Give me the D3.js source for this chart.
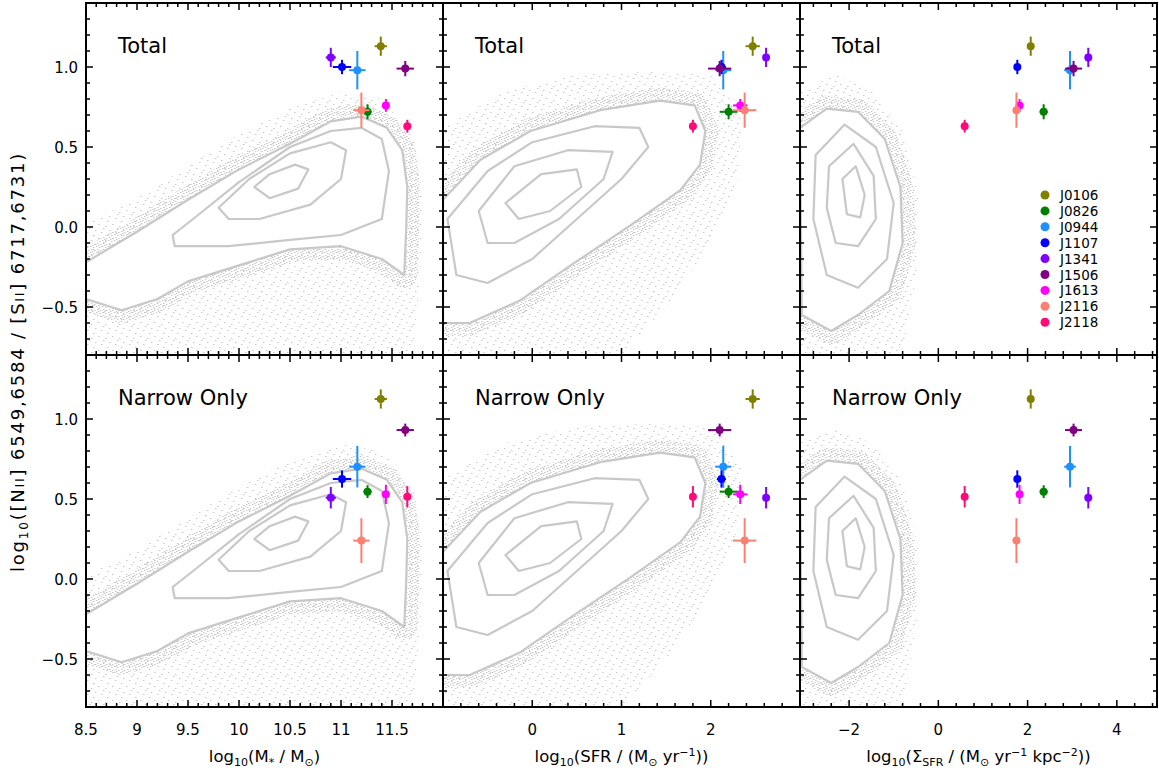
<!DOCTYPE html>
<html><head><meta charset="utf-8">
<script src="https://cdn.jsdelivr.net/npm/d3@7"></script>
<style>body{margin:0;background:#fff;} text{font-family:"DejaVu Sans","Liberation Sans",sans-serif;fill:#000;}</style>
</head><body><svg id="c" width="1159" height="778"></svg>
<script>
// ---------------- data ----------------
const names = ["J0106","J0826","J0944","J1107","J1341","J1506","J1613","J2116","J2118"];
const colors = ["#808000","#008000","#1e90ff","#0000ff","#8000ff","#800080","#ff00ff","#fa8072","#ff0a78"];
const logMass = [11.39,11.26,11.16,11.01,10.90,11.63,11.44,11.20,11.65];
const logMassErr = [0.06,0.04,0.08,0.09,0.05,0.085,0.02,0.08,0.02];
const logSFR = [2.47,2.20,2.14,2.12,2.62,2.10,2.33,2.38,1.80];
const logSFRErr = [0.08,0.10,0.09,0.05,0.02,0.13,0.08,0.13,0.02];
const logSigma = [2.07,2.36,2.95,1.77,3.36,3.03,1.82,1.75,0.59];
const logSigmaErr = [0.03,0.09,0.13,0.04,0.03,0.19,0.03,0.03,0.03];
const ratioTotal = [1.13,0.72,0.98,1.00,1.06,0.99,0.76,0.73,0.63];
const ratioTotalErr = [0.06,0.047,0.12,0.045,0.06,0.048,0.04,0.11,0.04];
const ratioNarrow = [1.125,0.546,0.702,0.625,0.508,0.931,0.529,0.24,0.514];
const ratioNarrowErr = [0.06,0.04,0.13,0.054,0.067,0.04,0.06,0.14,0.067];

const rowLabels = ["Total","Narrow Only"];
const yTickLabels = ["−0.5","0.0","0.5","1.0"];
const yTickValues = [-0.5,0,0.5,1.0];
const massTicks = [8.5,9,9.5,10,10.5,11,11.5];
const massTickLabels = ["8.5","9","9.5","10","10.5","11","11.5"];
const sfrTicks = [0,1,2];
const sfrTickLabels = ["0","1","2"];
const sigmaTicks = [-2,0,2,4];
const sigmaTickLabels = ["−2","0","2","4"];

// background sample (SDSS): envelope of scattered points and density contours
const massEnvelope = [[8.5,0.02],[9.0,0.18],[9.5,0.38],[10,0.58],[10.5,0.74],[11,0.84],[11.4,0.8],[11.72,0.55],[11.8,0.2],[11.78,-0.3],[11.7,-0.8],[8.5,-0.8]];
const massContour1 = [[8.5,-0.22],[9.0,-0.03],[9.5,0.17],[10.0,0.36],[10.5,0.52],[10.9,0.66],[11.2,0.69],[11.45,0.62],[11.6,0.48],[11.65,0.25],[11.64,0.0],[11.62,-0.3],[11.4,-0.2],[11.0,-0.12],[10.5,-0.14],[10.0,-0.24],[9.5,-0.34],[9.2,-0.45],[8.85,-0.52],[8.5,-0.45]];
const massContour2 = [[9.35,-0.05],[9.55,0.05],[10.0,0.28],[10.5,0.5],[10.9,0.6],[11.2,0.62],[11.4,0.55],[11.47,0.35],[11.4,0.05],[11.0,-0.05],[10.5,-0.08],[9.9,-0.12],[9.37,-0.12]];
const massContour3 = [[9.8,0.12],[10.1,0.3],[10.5,0.46],[10.9,0.53],[11.05,0.48],[11.0,0.3],[10.7,0.14],[10.2,0.05],[9.9,0.05]];
const massContour4 = [[10.15,0.25],[10.3,0.33],[10.55,0.39],[10.68,0.36],[10.58,0.24],[10.3,0.18]];

const sfrEnvelope = [[-1,0.62],[-0.3,0.85],[0.5,0.95],[1.3,0.97],[2.0,0.95],[2.35,0.7],[2.3,0.3],[2.0,-0.1],[1.5,-0.5],[1.0,-0.8],[-1,-0.8]];
const sfrContour1 = [[-1,0.17],[-0.58,0.42],[-0.02,0.6],[0.76,0.73],[1.43,0.79],[1.82,0.76],[1.94,0.6],[1.88,0.39],[1.66,0.23],[1.1,0.01],[0.43,-0.24],[-0.14,-0.46],[-0.7,-0.6],[-1,-0.6]];
const sfrContour2 = [[-0.95,0.05],[-0.5,0.35],[0,0.53],[0.7,0.63],[1.2,0.62],[1.3,0.5],[1.0,0.3],[0.5,0.05],[0,-0.2],[-0.5,-0.35],[-0.85,-0.3]];
const sfrContour3 = [[-0.6,0.1],[-0.2,0.38],[0.4,0.48],[0.9,0.47],[0.8,0.3],[0.3,0.05],[-0.2,-0.1],[-0.5,-0.1]];
const sfrContour4 = [[-0.3,0.15],[0.1,0.33],[0.5,0.36],[0.55,0.25],[0.2,0.1],[-0.15,0.05]];

const sigmaEnvelope = [[-3.1,0.85],[-2.3,0.95],[-1.5,0.85],[-0.8,0.6],[-0.45,0.2],[-0.5,-0.3],[-0.8,-0.8],[-3.1,-0.8]];
const sigmaContour1 = [[-3.1,0.62],[-2.5,0.74],[-1.8,0.72],[-1.2,0.55],[-0.85,0.25],[-0.8,-0.1],[-1.1,-0.4],[-1.8,-0.55],[-2.4,-0.65],[-3.06,-0.55]];
const sigmaContour2 = [[-2.75,0.45],[-2.1,0.64],[-1.4,0.5],[-1.0,0.15],[-1.15,-0.2],[-1.8,-0.38],[-2.5,-0.3],[-2.8,0.05]];
const sigmaContour3 = [[-2.45,0.38],[-1.9,0.52],[-1.45,0.32],[-1.4,0.05],[-1.8,-0.12],[-2.3,-0.1],[-2.5,0.12]];
const sigmaContour4 = [[-2.15,0.3],[-1.85,0.38],[-1.65,0.2],[-1.75,0.06],[-2.05,0.08]];

// ---------------- layout ----------------
const svg = d3.select("#c");
const L = 86, R = 1157, T = 3, B = 707;
const PW = (R - L) / 3, PH = (B - T) / 2;
const yDomain = [-0.8, 1.4];

const cols = [
  {domain:[8.5,12], xs:logMass, xe:logMassErr, ticks:massTicks, labels:massTickLabels, minor:0.1, major:0.5,
   env:massEnvelope, cont:[massContour1,massContour2,massContour3,massContour4]},
  {domain:[-1,3], xs:logSFR, xe:logSFRErr, ticks:sfrTicks, labels:sfrTickLabels, minor:0.2, major:1,
   env:sfrEnvelope, cont:[sfrContour1,sfrContour2,sfrContour3,sfrContour4]},
  {domain:[-3.1,4.9], xs:logSigma, xe:logSigmaErr, ticks:sigmaTicks, labels:sigmaTickLabels, minor:0.4, major:2,
   env:sigmaEnvelope, cont:[sigmaContour1,sigmaContour2,sigmaContour3,sigmaContour4]}
];
const rows = [{ys:ratioTotal, ye:ratioTotalErr},{ys:ratioNarrow, ye:ratioNarrowErr}];

const defs = svg.append("defs");
// texture tiles that stand in for the scattered background galaxies
const pat = defs.append("pattern").attr("id","dots").attr("patternUnits","userSpaceOnUse").attr("width",14).attr("height",14);
[[0,0],[7,2],[11,6],[3,8],[9,11],[5,4]].forEach(p=>pat.append("rect").attr("x",p[0]).attr("y",p[1]).attr("width",1.5).attr("height",1).attr("fill","#c8c8c8"));
const pat2 = defs.append("pattern").attr("id","dotsDense").attr("patternUnits","userSpaceOnUse").attr("width",6).attr("height",6);
[[0,0],[3,1],[1,3],[4,4],[2,5]].forEach(p=>pat2.append("rect").attr("x",p[0]).attr("y",p[1]).attr("width",1.5).attr("height",1).attr("fill","#c8c8c8"));

function ticksBetween(d0,d1,step){const a=[];const s=Math.ceil(d0/step-1e-6);for(let k=s;k*step<=d1+1e-9;k++)a.push(+(k*step).toFixed(6));return a;}

rows.forEach((row, ri) => {
  cols.forEach((col, ci) => {
    const x0 = L + ci*PW, y0 = T + ri*PH;
    const x = d3.scaleLinear().domain(col.domain).range([x0, x0+PW]);
    const y = d3.scaleLinear().domain(yDomain).range([y0+PH, y0]);
    const id = "clip"+ri+ci;
    defs.append("clipPath").attr("id",id).append("rect").attr("x",x0).attr("y",y0).attr("width",PW).attr("height",PH);
    const g = svg.append("g").attr("clip-path",`url(#${id})`);
    const line = d3.line().x(d=>x(d[0])).y(d=>y(d[1])).curve(d3.curveLinearClosed);
    const envClip = "env"+ri+ci;
    defs.append("clipPath").attr("id",envClip).append("path").attr("d",line(col.env));
    g.append("path").attr("d",line(col.env)).attr("fill","url(#dots)");
    g.append("g").attr("clip-path",`url(#${envClip})`).append("path").attr("d",line(col.cont[0])).attr("fill","none").attr("stroke","url(#dotsDense)").attr("stroke-width",26).attr("stroke-linejoin","round");
    g.append("path").attr("d",line(col.cont[0])).attr("fill","#fff");
    col.cont.forEach(c=>g.append("path").attr("d",line(c)).attr("fill","none").attr("stroke","#c8c8c8").attr("stroke-width",2.2).attr("stroke-linejoin","round"));

    svg.append("rect").attr("x",x0).attr("y",y0).attr("width",PW).attr("height",PH).attr("fill","none").attr("stroke","#000").attr("stroke-width",2);
    const tg = svg.append("g").attr("stroke","#000").attr("stroke-width",1.5);
    ticksBetween(col.domain[0],col.domain[1],col.minor).forEach(v=>{
      const isMaj = Math.abs(v/col.major - Math.round(v/col.major))<1e-6;
      const len = isMaj?7:4;
      tg.append("line").attr("x1",x(v)).attr("x2",x(v)).attr("y1",y0+PH).attr("y2",y0+PH-len);
      tg.append("line").attr("x1",x(v)).attr("x2",x(v)).attr("y1",y0).attr("y2",y0+len);
    });
    ticksBetween(yDomain[0],yDomain[1],0.1).forEach(v=>{
      const isMaj = Math.abs(v/0.5 - Math.round(v/0.5))<1e-6;
      const len = isMaj?7:4;
      tg.append("line").attr("y1",y(v)).attr("y2",y(v)).attr("x1",x0).attr("x2",x0+len);
      tg.append("line").attr("y1",y(v)).attr("y2",y(v)).attr("x1",x0+PW).attr("x2",x0+PW-len);
    });
    if (ci===0) {
      yTickValues.forEach((v,k)=>svg.append("text").attr("x",x0-8).attr("y",y(v)+5.5).attr("text-anchor","end").attr("font-size",15).text(yTickLabels[k]));
    }
    if (ri===1) {
      col.ticks.forEach((v,k)=>svg.append("text").attr("x",x(v)).attr("y",B+28).attr("text-anchor","middle").attr("font-size",15).text(col.labels[k]));
    }
    svg.append("text").attr("x",x0+32).attr("y",y0+50).attr("font-size",21).text(rowLabels[ri]);

    const pg = svg.append("g");
    names.forEach((n,i)=>{
      const cx = x(col.xs[i]), cy = y(row.ys[i]);
      pg.append("line").attr("x1",x(col.xs[i]-col.xe[i])).attr("x2",x(col.xs[i]+col.xe[i])).attr("y1",cy).attr("y2",cy).attr("stroke",colors[i]).attr("stroke-width",2);
      pg.append("line").attr("x1",cx).attr("x2",cx).attr("y1",y(row.ys[i]-row.ye[i])).attr("y2",y(row.ys[i]+row.ye[i])).attr("stroke",colors[i]).attr("stroke-width",2);
      pg.append("circle").attr("cx",cx).attr("cy",cy).attr("r",4).attr("fill",colors[i]);
    });
  });
});

// legend
const lg = svg.append("g");
names.forEach((n,i)=>{
  const ly = 195 + i*15.9;
  lg.append("circle").attr("cx",1045).attr("cy",ly).attr("r",4.5).attr("fill",colors[i]);
  lg.append("text").attr("x",1060).attr("y",ly+5).attr("font-size",13.5).text(n);
});

// axis titles
function xTitle(cx, parts){
  const t = svg.append("text").attr("x",cx).attr("y",762).attr("text-anchor","middle").attr("font-size",16.5);
  parts.forEach(p=>{const s=t.append("tspan").text(p[0]); if(p[1]==="sub"){s.attr("font-size",11).attr("dy",4);} else if(p[1]==="sup"){s.attr("font-size",11).attr("dy",-6);} else if(p[1]==="back"){s.attr("dy",p[2]);} });
}
xTitle(L+PW*0.5, [["log"],["10","sub"],["(M","back",-4],["*","sub"],[" / M","back",-4],["⊙","sub"],[")","back",-4]]);
xTitle(L+PW*1.5, [["log"],["10","sub"],["(SFR / (M","back",-4],["⊙","sub"],[" yr","back",-4],["−1","sup"],["))","back",6]]);
xTitle(L+PW*2.5, [["log"],["10","sub"],["(Σ","back",-4],["SFR","sub"],[" / (M","back",-4],["⊙","sub"],[" yr","back",-4],["−1","sup"],[" kpc","back",6],["−2","sup"],["))","back",6]]);

const yt = svg.append("text").attr("transform","translate(24,362) rotate(-90)").attr("text-anchor","middle").attr("font-size",18).attr("letter-spacing",1.8);
yt.append("tspan").text("log");
yt.append("tspan").text("10").attr("font-size",12).attr("dy",4);
yt.append("tspan").text("([N").attr("dy",-4);
yt.append("tspan").text("II").attr("font-size",12.5);
yt.append("tspan").text("] 6549,6584 / [S");
yt.append("tspan").text("II").attr("font-size",12.5);
yt.append("tspan").text("] 6717,6731)");
</script></body></html>
